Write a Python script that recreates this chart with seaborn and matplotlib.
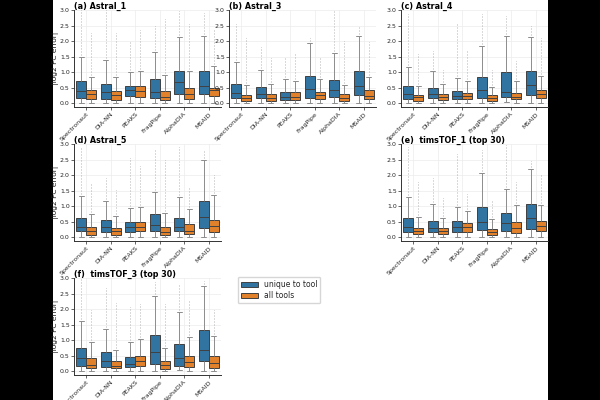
import numpy as np
import pandas as pd
import matplotlib
matplotlib.use('Agg')
import matplotlib.pyplot as plt
import seaborn as sns
from matplotlib.patches import Patch, Rectangle

# tools and panels
tools = ['Spectronaut', 'DIA-NN', 'PEAKS', 'FragPipe', 'AlphaDIA', 'MSAID']
panel_titles = ['(a) Astral_1', '(b) Astral_3', '(c) Astral_4', '(d) Astral_5',
                '(e)  timsTOF_1 (top 30)', '(f)  timsTOF_3 (top 30)']
groups = ['unique to tool', 'all tools']

# box stats, one row per panel (a-f), one column per tool
uniq_lo = [[0, 0, 0, 0, 0, 0],
           [0, 0, 0, 0, 0, 0],
           [0, 0, 0, 0, 0.05, 0],
           [0, 0, 0, 0, 0, 0],
           [0, 0, 0, 0, 0, 0],
           [0, 0, 0, 0, 0.02, 0]]
uniq_q1 = [[0.17, 0.14, 0.22, 0.16, 0.30, 0.29],
           [0.15, 0.15, 0.10, 0.17, 0.21, 0.26],
           [0.14, 0.15, 0.12, 0.16, 0.20, 0.26],
           [0.18, 0.16, 0.16, 0.18, 0.18, 0.29],
           [0.16, 0.15, 0.17, 0.23, 0.21, 0.27],
           [0.17, 0.13, 0.13, 0.24, 0.17, 0.32]]
uniq_med = [[0.39, 0.36, 0.42, 0.36, 0.68, 0.54],
            [0.33, 0.29, 0.21, 0.46, 0.43, 0.56],
            [0.30, 0.30, 0.22, 0.41, 0.36, 0.59],
            [0.32, 0.32, 0.32, 0.38, 0.33, 0.64],
            [0.34, 0.28, 0.34, 0.50, 0.45, 0.61],
            [0.41, 0.31, 0.24, 0.60, 0.41, 0.67]]
uniq_q3 = [[0.70, 0.63, 0.54, 0.78, 1.03, 1.03],
           [0.61, 0.52, 0.37, 0.87, 0.76, 1.02],
           [0.55, 0.50, 0.39, 0.83, 0.99, 1.04],
           [0.61, 0.54, 0.50, 0.73, 0.61, 1.15],
           [0.60, 0.51, 0.51, 0.98, 0.77, 1.06],
           [0.74, 0.61, 0.45, 1.15, 0.86, 1.31]]
uniq_hi = [[1.48, 1.39, 1.00, 1.65, 2.14, 2.16],
           [1.32, 1.08, 0.77, 1.93, 1.60, 2.16],
           [1.18, 1.04, 0.80, 1.84, 2.16, 2.14],
           [1.34, 1.15, 0.95, 1.44, 1.29, 2.50],
           [1.28, 1.06, 0.98, 2.07, 1.56, 2.19],
           [1.63, 1.35, 0.95, 2.42, 1.91, 2.75]]
uniq_max = [[3.0, 3.0, 2.0, 2.5, 3.0, 2.9],
            [2.6, 1.8, 1.5, 2.1, 3.0, 2.5],
            [2.9, 1.7, 2.6, 2.9, 2.8, 2.5],
            [2.9, 1.95, 2.55, 2.85, 2.9, 2.8],
            [2.9, 1.9, 2.7, 2.8, 3.0, 2.5],
            [3.0, 2.7, 2.1, 2.9, 2.8, 2.9]]

all_lo = [[0, 0, 0, 0, 0, 0] for _ in range(6)]
all_q1 = [[0.12, 0.10, 0.21, 0.10, 0.14, 0.22],
          [0.06, 0.06, 0.10, 0.12, 0.07, 0.12],
          [0.07, 0.09, 0.12, 0.07, 0.12, 0.16],
          [0.06, 0.08, 0.18, 0.07, 0.11, 0.16],
          [0.09, 0.09, 0.17, 0.06, 0.13, 0.19],
          [0.11, 0.09, 0.15, 0.08, 0.13, 0.11]]
all_med = [[0.28, 0.27, 0.38, 0.21, 0.28, 0.41],
           [0.16, 0.17, 0.21, 0.25, 0.16, 0.24],
           [0.18, 0.18, 0.22, 0.16, 0.21, 0.28],
           [0.19, 0.19, 0.34, 0.16, 0.21, 0.35],
           [0.21, 0.18, 0.32, 0.17, 0.28, 0.37],
           [0.21, 0.16, 0.31, 0.18, 0.30, 0.25]]
all_q3 = [[0.41, 0.40, 0.54, 0.38, 0.50, 0.50],
          [0.26, 0.29, 0.35, 0.37, 0.28, 0.41],
          [0.26, 0.28, 0.34, 0.26, 0.34, 0.42],
          [0.32, 0.30, 0.50, 0.34, 0.43, 0.54],
          [0.29, 0.28, 0.45, 0.27, 0.49, 0.53],
          [0.43, 0.32, 0.49, 0.33, 0.50, 0.50]]
all_hi = [[0.85, 0.85, 1.05, 0.90, 1.03, 1.21],
          [0.57, 0.61, 0.72, 0.77, 0.59, 0.85],
          [0.55, 0.60, 0.70, 0.53, 0.70, 0.86],
          [0.73, 0.69, 0.96, 0.77, 0.91, 1.35],
          [0.64, 0.61, 0.85, 0.57, 1.03, 1.03],
          [0.95, 0.68, 1.05, 0.73, 1.09, 1.12]]
all_max = [[2.3, 2.3, 2.4, 2.7, 2.6, 2.4],
           [2.1, 1.5, 1.6, 1.5, 2.0, 2.0],
           [1.6, 1.1, 1.7, 1.1, 1.35, 2.1],
           [1.75, 1.55, 2.3, 2.5, 1.6, 2.0],
           [1.8, 1.3, 1.4, 1.2, 1.8, 2.05],
           [2.0, 2.2, 2.2, 2.2, 2.3, 2.0]]

sns.set_theme(style='whitegrid')
plt.rcParams['font.family'] = ['DejaVu Sans']

colors = ['#1f77b4', '#ff7f0e']
fill_colors = [sns.desaturate(c, 0.75) for c in colors]

fig = plt.figure(figsize=(6, 4), dpi=100)
fig.patch.set_facecolor('black')
fig.add_artist(Rectangle((53 / 600, 0), 495 / 600, 1, transform=fig.transFigure,
                         facecolor='white', edgecolor='none', zorder=-10))

# axes placement in pixels: (left, top, bottom)
col_left = [74, 229, 401]
row_top = [9.5, 143.5, 277.5]
row_bot = [107.1, 241.1, 375.1]
slots = [(0, 0), (0, 1), (0, 2), (1, 0), (1, 2), (2, 0)]
ax_w = 147

for p, (r, c) in enumerate(slots):
    left = col_left[c] / 600
    bottom = 1 - row_bot[r] / 400
    height = (row_bot[r] - row_top[r]) / 400
    ax = fig.add_axes([left, bottom, ax_w / 600, height])

    rows = []
    for t, tool in enumerate(tools):
        for g, stats in enumerate([(uniq_lo, uniq_q1, uniq_med, uniq_q3, uniq_hi),
                                   (all_lo, all_q1, all_med, all_q3, all_hi)]):
            for s in stats:
                rows.append({'tool': tool, 'group': groups[g], 'value': s[p][t]})
    df = pd.DataFrame(rows)

    sns.boxplot(data=df, x='tool', y='value', hue='group', order=tools,
                hue_order=groups, palette=colors, whis=(0, 100), width=0.8,
                linewidth=0.7, linecolor='0.25', showfliers=False, legend=False,
                whiskerprops={'color': '0.55'}, capprops={'color': '0.55'},
                ax=ax)

    # outlier streaks above the whiskers
    xs = np.arange(len(tools))
    ax.vlines(xs - 0.2, uniq_hi[p], uniq_max[p], colors='0.5', linestyles=(0, (0.6, 1.2)),
              linewidth=0.6, alpha=0.7, zorder=1)
    ax.vlines(xs + 0.2, all_hi[p], all_max[p], colors='0.5', linestyles=(0, (0.6, 1.2)),
              linewidth=0.6, alpha=0.7, zorder=1)

    ax.set_ylim(-0.13, 3.02)
    ax.set_xlim(-0.5, 5.5)
    ax.set_yticks([0, 0.5, 1.0, 1.5, 2.0, 2.5, 3.0])
    ax.set_xlabel('')
    if c == 0:
        ax.set_ylabel('|log2 FC error|', fontsize=5.4, labelpad=0.5, color='0.1')
    else:
        ax.set_ylabel('')
    ax.set_title(panel_titles[p], loc='left', fontsize=5.8, fontweight='bold', pad=0.8,
                 color='black')
    ax.tick_params(axis='y', labelsize=4.5, length=2, width=0.5, pad=1, left=True,
                   labelcolor='0.15')
    ax.tick_params(axis='x', labelsize=4.5, length=2, width=0.5, pad=1, bottom=True,
                   labelrotation=45, labelcolor='0.15')
    for lab in ax.get_xticklabels():
        lab.set_ha('right')
        lab.set_rotation_mode('anchor')
    ax.grid(True, color='#ececec', linewidth=0.5)
    sns.despine(ax=ax)
    for sp in ['left', 'bottom']:
        ax.spines[sp].set_color('0.2')
        ax.spines[sp].set_linewidth(0.7)

handles = [Patch(facecolor=fill_colors[i], edgecolor='0.25', linewidth=0.7, label=groups[i])
           for i in range(2)]
fig.legend(handles=handles, loc='upper left', bbox_to_anchor=(234 / 600, 1 - 273 / 400),
           fontsize=5.5, frameon=True, edgecolor='0.8', handlelength=2.2,
           handleheight=0.6, borderpad=0.4, labelspacing=0.3)

fig.savefig('out.png', dpi=100, facecolor=fig.get_facecolor())
